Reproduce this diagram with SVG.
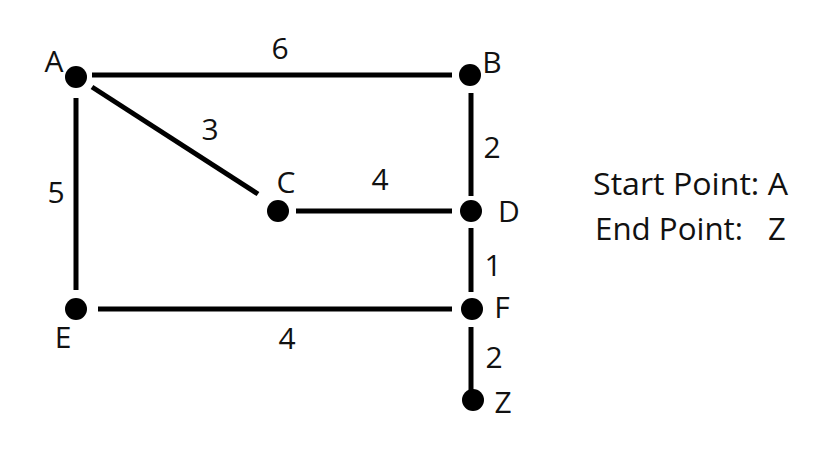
<svg xmlns="http://www.w3.org/2000/svg" width="826" height="455" viewBox="0 0 826 455">
<style>
.edge{stroke:#000;stroke-width:5;fill:none}
.dot{fill:#000}
text{font-family:"Open Sans","Liberation Sans",sans-serif;font-size:30px;fill:#111}
.lbl{text-anchor:middle}
.info{font-size:31px}
</style>
<rect width="826" height="455" fill="#fff"/>
<g id="connectors">
<line class="edge" x1="92" y1="75" x2="452" y2="75"/>
<line class="edge" x1="76" y1="98" x2="76" y2="290"/>
<line class="edge" x1="92" y1="87" x2="258" y2="194"/>
<line class="edge" x1="471" y1="93" x2="471" y2="196"/>
<line class="edge" x1="296" y1="211" x2="452" y2="211"/>
<line class="edge" x1="471" y1="228" x2="471" y2="292"/>
<line class="edge" x1="98" y1="309" x2="452" y2="309"/>
<line class="edge" x1="471" y1="327" x2="471" y2="390"/>
<text class="lbl" x="280" y="59">6</text>
<text class="lbl" x="210" y="140">3</text>
<text class="lbl" x="492" y="158">2</text>
<text class="lbl" x="380" y="190">4</text>
<text class="lbl" x="56" y="203">5</text>
<text class="lbl" x="493" y="276">1</text>
<text class="lbl" x="287" y="349">4</text>
<text class="lbl" x="494" y="368">2</text>
</g>
<g id="A"><circle class="dot" cx="76" cy="77" r="11"/><text class="lbl" x="54" y="72">A</text></g>
<g id="B"><circle class="dot" cx="470" cy="75" r="11"/><text class="lbl" x="492" y="73">B</text></g>
<g id="C"><circle class="dot" cx="278" cy="211" r="11"/><text class="lbl" x="286" y="193">C</text></g>
<g id="D"><circle class="dot" cx="471" cy="211" r="11"/><text class="lbl" x="509" y="222">D</text></g>
<g id="E"><circle class="dot" cx="76" cy="309" r="11"/><text class="lbl" x="63" y="348">E</text></g>
<g id="F"><circle class="dot" cx="472" cy="309" r="11"/><text class="lbl" x="502" y="318">F</text></g>
<g id="Z"><circle class="dot" cx="473" cy="400" r="11"/><text class="lbl" x="503" y="413">Z</text></g>
<g id="info">
<text class="info" x="593" y="195" textLength="195" lengthAdjust="spacingAndGlyphs">Start Point: A</text>
<text class="info" x="595" y="240" textLength="148" lengthAdjust="spacingAndGlyphs">End Point:</text>
<text class="info" x="768" y="240">Z</text>
</g>
</svg>
